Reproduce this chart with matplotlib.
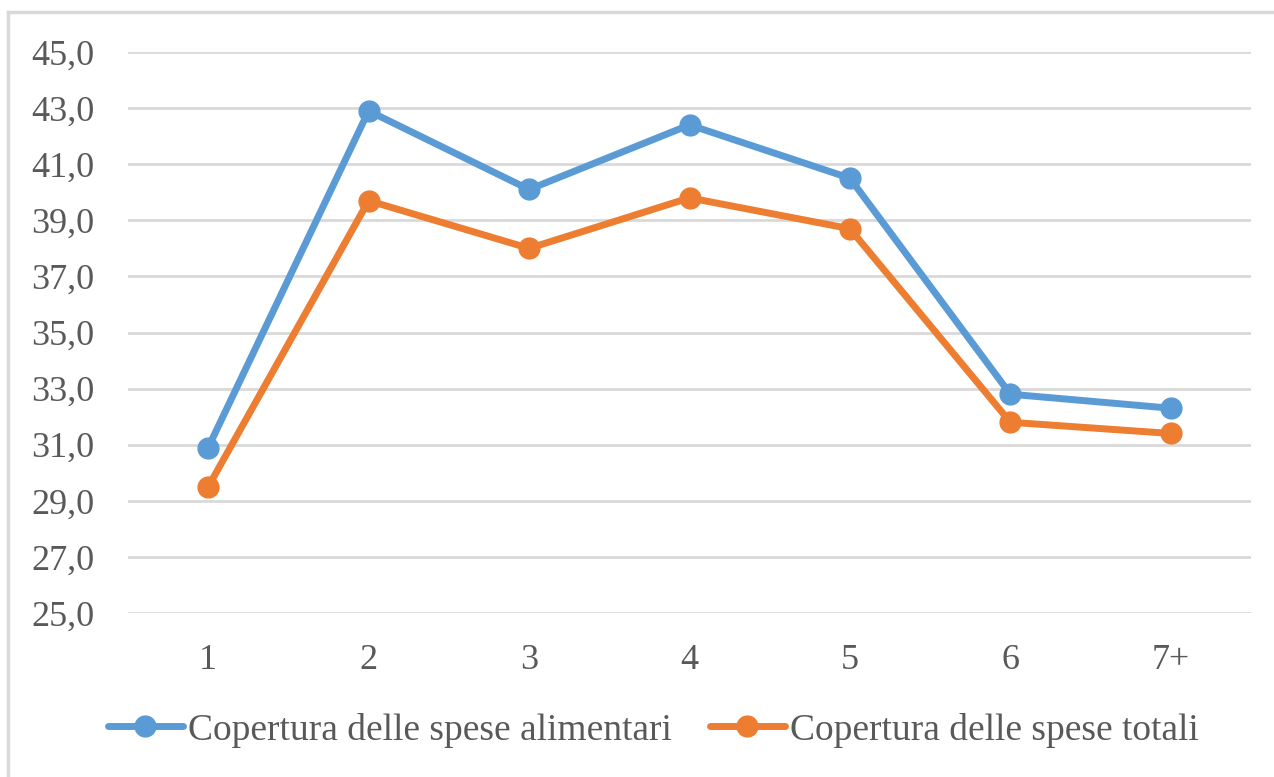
import matplotlib
matplotlib.use("Agg")
import matplotlib.pyplot as plt
from matplotlib.lines import Line2D
from matplotlib.ticker import FuncFormatter

categories = ["1", "2", "3", "4", "5", "6", "7+"]
alimentari = [30.9, 42.9, 40.1, 42.4, 40.5, 32.8, 32.3]
totali = [29.5, 39.7, 38.0, 39.8, 38.7, 31.8, 31.4]
label_alimentari = "Copertura delle spese alimentari"
label_totali = "Copertura delle spese totali"

plt.rcParams['font.family'] = ['Liberation Serif', 'DejaVu Serif']
txt = '#595959'
blue = '#5B9BD5'
orange = '#ED7D31'

fig = plt.figure(figsize=(12.74, 7.77), dpi=100)
ax = fig.add_axes([128/1274, 1-613/777, (1251-128)/1274, (613-52)/777])

x = list(range(len(categories)))
ax.plot(x, alimentari, color=blue, lw=5, marker='o', ms=15, label=label_alimentari, solid_capstyle='round', zorder=3)
ax.plot(x, totali, color=orange, lw=5, marker='o', ms=15, label=label_totali, solid_capstyle='round', zorder=3)

ax.set_xlim(-0.5, len(categories)-0.5)
ax.set_ylim(25, 45)
ax.set_yticks([25, 27, 29, 31, 33, 35, 37, 39, 41, 43, 45])
ax.yaxis.set_major_formatter(FuncFormatter(lambda v, p: f"{v:.1f}".replace('.', ',')))
ax.set_xticks(x)
ax.set_xticklabels(categories)
ax.grid(axis='y', color='#D9D9D9', lw=2)
ax.set_axisbelow(True)
for s in ax.spines.values():
    s.set_visible(False)
ax.tick_params(length=0, labelsize=26, colors=txt)
ax.tick_params(axis='x', pad=22)
ax.tick_params(axis='y', pad=24)

leg = fig.legend(loc='center', bbox_to_anchor=(0.513, 1-730/777), ncol=2, frameon=False,
                 fontsize=27, labelcolor=txt, handlelength=2.0, handletextpad=0.15, columnspacing=1.0)

fig.add_artist(Line2D([8/1274, 8/1274], [0, 1-12/777], color='#D9D9D9', lw=2.5, transform=fig.transFigure))
fig.add_artist(Line2D([8/1274, 1], [1-12/777, 1-12/777], color='#D9D9D9', lw=2.5, transform=fig.transFigure))

fig.savefig("out.png", dpi=100)
